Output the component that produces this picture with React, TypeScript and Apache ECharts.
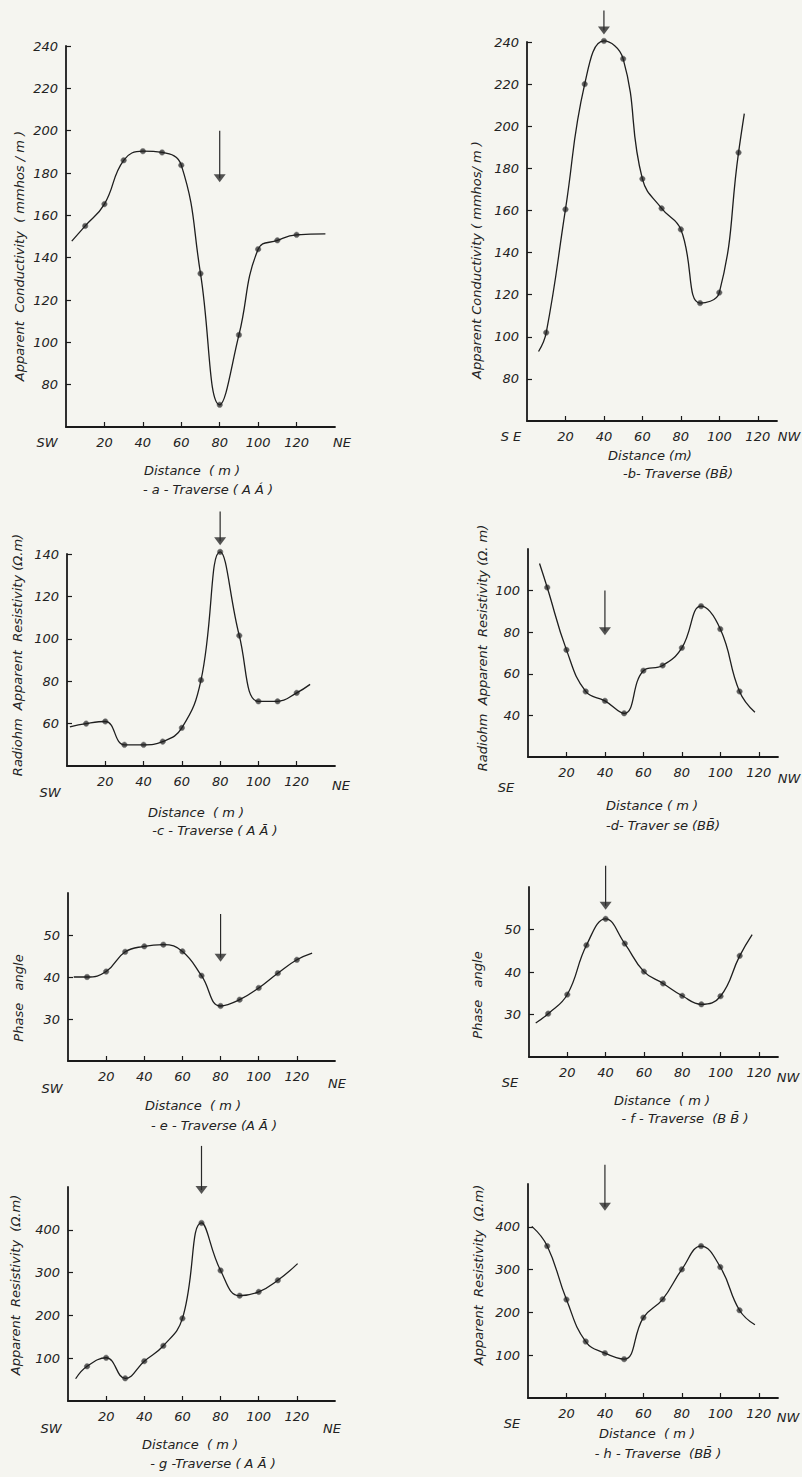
import React, { useEffect, useRef } from "react";
import * as echarts from "echarts";

// ---------- data ----------
const distAA = [10, 20, 30, 40, 50, 60, 70, 80, 90, 100, 110, 120];
const distBB = [10, 20, 30, 40, 50, 60, 70, 80, 90, 100, 110];
const distG = [10, 20, 30, 40, 50, 60, 70, 80, 90, 100, 110];
const xTicks = [20, 40, 60, 80, 100, 120];

// a - conductivity AA'
const condA = [155, 165.3, 186, 190.3, 189.7, 183.7, 132.5, 70.5, 103.5, 144, 148.2, 150.8];
const condAEnds = [[3, 147.8], [135, 151.2]];
const arrowA = [80, 200, 177.5];

// b - conductivity BB'
const condB = [102, 160.5, 220, 240.5, 232, 175, 161, 151, 116, 121, 187.5];
const condBEnds = [[6, 93], [113, 206]];
const arrowB = [40, 255, 245.5];

// c - radiohm resistivity AA'
const resC = [60, 61, 50, 50, 51.5, 58, 80.5, 141, 101.5, 70.5, 70.5, 74.5];
const resCEnds = [[1.5, 58.5], [127, 78.5]];
const arrowC = [80, 160, 146];

// d - radiohm resistivity BB'
const resD = [101.5, 71.5, 51.5, 47, 41, 61.5, 64, 72.5, 92.5, 81.5, 51.5];
const resDEnds = [[6, 113], [118, 41.5]];
const arrowD = [40, 100, 80.5];

// e - phase angle AA'
const phaseE = [40, 41.3, 46, 47.3, 47.7, 46.1, 40.3, 33.1, 34.6, 37.4, 40.9, 44.1];
const phaseEEnds = [[3, 40], [128, 45.7]];
const arrowE = [80, 55, 44.6];

// f - phase angle BB'
const phaseF = [30.2, 34.7, 46.3, 52.5, 46.7, 40.1, 37.3, 34.4, 32.4, 34.3, 43.8];
const phaseFEnds = [[3.5, 28], [116.5, 48.8]];
const arrowF = [40, 65, 55.6];

// g - apparent resistivity AA'
const resG = [81, 101, 53, 93, 129, 193, 416, 305, 246, 255, 282];
const resGEnds = [[4, 52], [120.4, 321]];
const arrowG = [70, 596, 493];

// h - apparent resistivity BB'
const resH = [355, 230, 132, 104.7, 90.7, 187.8, 230.6, 300.5, 355, 306, 205];
const resHEnds = [[2, 401], [118, 171]];
const arrowH = [40, 545, 447];

const yTicksCond = [80, 100, 120, 140, 160, 180, 200, 220, 240];
const yTicksC = [60, 80, 100, 120, 140];
const yTicksD = [40, 60, 80, 100];
const yTicksPhase = [30, 40, 50];
const yTicksRes = [100, 200, 300, 400];

// ---------- layout / panels ----------
const FONT = "'DejaVu Sans', 'Liberation Sans', sans-serif";
const INK = "#222";

const panels = [
  {
    dist: distAA, vals: condA, ends: condAEnds, arrow: arrowA, yMin: 60, yMax: 240, yTicks: yTicksCond, xMax: 140,
    grid: { left: 66, top: 46, width: 269, height: 381 },
    left: "SW", right: "NE", leftPos: [47, 442], rightPos: [342, 442],
    xName: "Distance  ( m )", xNamePos: [192, 470],
    caption: "- a - Traverse ( A Á )", capPos: [208, 489],
    yName: "Apparent  Conductivity  ( mmhos / m )", yNamePos: [19, 256],
  },
  {
    dist: distBB, vals: condB, ends: condBEnds, arrow: arrowB, yMin: 60, yMax: 240, yTicks: yTicksCond, xMax: 130,
    grid: { left: 527, top: 42, width: 250, height: 379 },
    left: "S E", right: "NW", leftPos: [511, 436], rightPos: [789, 436],
    xName: "Distance (m)", xNamePos: [650, 455],
    caption: "-b- Traverse (BB\u0304)", capPos: [678, 473],
    yName: "Apparent Conductivity ( mmhos/ m )", yNamePos: [476, 260],
  },
  {
    dist: distAA, vals: resC, ends: resCEnds, arrow: arrowC, yMin: 40, yMax: 140, yTicks: yTicksC, xMax: 140,
    grid: { left: 67, top: 554, width: 268, height: 212 },
    left: "SW", right: "NE", leftPos: [50, 792], rightPos: [341, 785],
    xName: "Distance  ( m )", xNamePos: [196, 812],
    caption: "-c - Traverse ( A Ā )", capPos: [215, 830],
    yName: "Radiohm  Apparent  Resistivity (Ω.m)", yNamePos: [17, 655],
  },
  {
    dist: distBB, vals: resD, ends: resDEnds, arrow: arrowD, yMin: 20, yMax: 120, yTicks: yTicksD, xMax: 130,
    grid: { left: 528, top: 549, width: 250, height: 208 },
    left: "SE", right: "NW", leftPos: [506, 787], rightPos: [789, 778],
    xName: "Distance ( m )", xNamePos: [652, 805],
    caption: "-d- Traver se (BB\u0304)", capPos: [663, 825],
    yName: "Radiohm  Apparent  Resistivity (Ω. m)", yNamePos: [482, 648],
  },
  {
    dist: distAA, vals: phaseE, ends: phaseEEnds, arrow: arrowE, yMin: 20, yMax: 60, yTicks: yTicksPhase, xMax: 140,
    grid: { left: 68, top: 893, width: 267, height: 168 },
    left: "SW", right: "NE", leftPos: [52, 1088], rightPos: [337, 1083],
    xName: "Distance  ( m )", xNamePos: [193, 1105],
    caption: "- e - Traverse (A Ā )", capPos: [214, 1125],
    yName: "Phase   angle", yNamePos: [18, 998],
  },
  {
    dist: distBB, vals: phaseF, ends: phaseFEnds, arrow: arrowF, yMin: 20, yMax: 60, yTicks: yTicksPhase, xMax: 130,
    grid: { left: 529, top: 887, width: 249, height: 170 },
    left: "SE", right: "NW", leftPos: [510, 1082], rightPos: [788, 1077],
    xName: "Distance  ( m )", xNamePos: [662, 1100],
    caption: "- f - Traverse  (B B\u0304 )", capPos: [685, 1118],
    yName: "Phase   angle", yNamePos: [477, 995],
  },
  {
    dist: distG, vals: resG, ends: resGEnds, arrow: arrowG, yMin: 0, yMax: 500, yTicks: yTicksRes, xMax: 140,
    grid: { left: 68, top: 1187, width: 267, height: 214 },
    left: "SW", right: "NE", leftPos: [51, 1428], rightPos: [332, 1428],
    xName: "Distance  ( m )", xNamePos: [190, 1444],
    caption: "- g -Traverse ( A Ā )", capPos: [213, 1463],
    yName: "Apparent  Resistivity  (Ω.m)", yNamePos: [15, 1285],
  },
  {
    dist: distBB, vals: resH, ends: resHEnds, arrow: arrowH, yMin: 0, yMax: 500, yTicks: yTicksRes, xMax: 130,
    grid: { left: 528, top: 1184, width: 250, height: 214 },
    left: "SE", right: "NW", leftPos: [512, 1423], rightPos: [788, 1417],
    xName: "Distance  ( m )", xNamePos: [647, 1433],
    caption: "- h - Traverse  (BB\u0304 )", capPos: [658, 1453],
    yName: "Apparent  Resistivity  (Ω.m)", yNamePos: [478, 1275],
  },
];

function buildOption() {
  const grid: any[] = [];
  const xAxis: any[] = [];
  const yAxis: any[] = [];
  const series: any[] = [];
  const graphic: any[] = [];
  const labelStyle = { fontFamily: FONT, fontStyle: "italic", fontSize: 13, color: INK };

  panels.forEach((p, i) => {
    grid.push({ ...p.grid, containLabel: false });
    xAxis.push({
      gridIndex: i, type: "value", min: 0, max: p.xMax,
      axisLine: { show: true, onZero: false, lineStyle: { color: "#1a1a1a", width: 1.8 } },
      axisTick: { show: true, inside: true, length: 5, customValues: xTicks, lineStyle: { color: "#1a1a1a", width: 1.2 } },
      axisLabel: { ...labelStyle, margin: 9, customValues: xTicks },
      splitLine: { show: false },
    });
    yAxis.push({
      gridIndex: i, type: "value", min: p.yMin, max: p.yMax,
      axisLine: { show: true, onZero: false, lineStyle: { color: "#1a1a1a", width: 1.8 } },
      axisTick: { show: true, inside: true, length: 5, customValues: p.yTicks, lineStyle: { color: "#1a1a1a", width: 1.2 } },
      axisLabel: { ...labelStyle, margin: 8, customValues: p.yTicks },
      splitLine: { show: false },
    });
    const pts = p.dist.map((d, k) => [d, p.vals[k]]);
    series.push({
      type: "line", xAxisIndex: i, yAxisIndex: i, smooth: 0.45, showSymbol: false, clip: false,
      lineStyle: { color: "#1e1e1e", width: 1.3 },
      data: [p.ends[0], ...pts, p.ends[1]],
      silent: true,
    });
    series.push({
      type: "scatter", xAxisIndex: i, yAxisIndex: i, symbol: "circle", symbolSize: 5.5, clip: false,
      itemStyle: { color: "#333", borderColor: "#777", borderWidth: 0.7 },
      data: pts,
      silent: true,
    });
    series.push({
      type: "line", xAxisIndex: i, yAxisIndex: i, showSymbol: false, clip: false,
      lineStyle: { color: "#2a2a2a", width: 1.2 },
      data: [[p.arrow[0], p.arrow[1]], [p.arrow[0], p.arrow[2]]],
      silent: true,
    });
    series.push({
      type: "scatter", xAxisIndex: i, yAxisIndex: i, symbol: "triangle", symbolRotate: 180,
      symbolSize: [12, 8], clip: false,
      itemStyle: { color: "#2a2a2a" },
      data: [[p.arrow[0], p.arrow[2]]],
      silent: true,
    });

    const txt = (text: string, pos: number[], rot = 0) => ({
      type: "text", x: pos[0], y: pos[1], rotation: rot, silent: true,
      style: {
        text, fill: INK, font: `italic 13px ${FONT}`,
        textAlign: "center", textVerticalAlign: "middle",
      },
    });
    graphic.push(txt(p.left, p.leftPos));
    graphic.push(txt(p.right, p.rightPos));
    graphic.push(txt(p.xName, p.xNamePos));
    graphic.push(txt(p.caption, p.capPos));
    graphic.push(txt(p.yName, p.yNamePos, Math.PI / 2));
  });

  return {
    animation: false,
    backgroundColor: "#f5f5f0",
    grid, xAxis, yAxis, series, graphic,
  };
}

export default function App() {
  const ref = useRef<HTMLDivElement>(null);
  useEffect(() => {
    document.body.style.margin = "0";
    if (!ref.current) return;
    const chart = echarts.init(ref.current, undefined, { renderer: "svg" });
    chart.setOption(buildOption());
    return () => chart.dispose();
  }, []);
  return <div ref={ref} style={{ width: 802, height: 1477, background: "#f5f5f0" }} />;
}
